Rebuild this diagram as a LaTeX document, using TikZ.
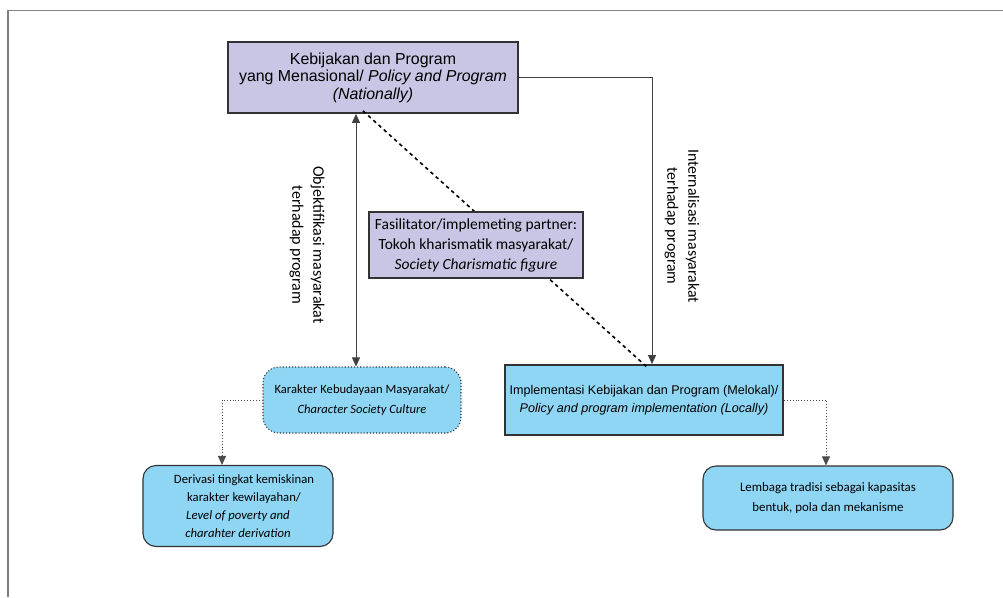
\documentclass[tikz,border=0pt]{standalone}
\usepackage{fontspec}
\setmainfont{Liberation Sans}
\newfontfamily\carl{Carlito}
\usetikzlibrary{arrows.meta}
\definecolor{lav}{HTML}{C8C6E4}
\definecolor{sky}{HTML}{8FD6F5}
\definecolor{edge}{HTML}{333333}
\tikzset{
  sqbox/.style={draw=edge, line width=1.8pt, align=center, inner sep=2pt},
  rbox/.style={draw=edge, line width=1.1pt, rounded corners=13pt, fill=sky, align=center, inner sep=2pt},
  conn/.style={draw=black!75, line width=0.8pt},
  tip/.style={-{Triangle[length=9pt,width=8pt]}},
  dotc/.style={draw=black!70, line width=0.9pt, dotted},
}
\begin{document}
\begin{tikzpicture}[x=1pt,y=-1pt]
\useasboundingbox (0,0) rectangle (1003,597);
\draw[gray, line width=1.3pt] (1003,10.5) -- (8,10.5) -- (8,597);

\node[sqbox, fill=lav, minimum width=290, minimum height=71,
      font=\fontsize{15.9}{17.5}\selectfont] (top) at (373,77.5)
  {Kebijakan dan Program\\yang Menasional/ \textit{Policy and Program}\\\textit{(Nationally)}};

\node[sqbox, fill=sky, minimum width=278, minimum height=70,
      font=\fontsize{12.6}{18.5}\selectfont] (impl) at (644,400)
  {Implementasi Kebijakan dan Program (Melokal)/\\\textit{Policy and program implementation (Locally)}};

\node[rbox, draw=edge, dotted, rounded corners=16pt, minimum width=198, minimum height=66,
      font=\carl\fontsize{12.6}{19.5}\selectfont] (kar) at (362,400)
  {Karakter Kebudayaan Masyarakat/\\\textit{Character Society Culture}};

\node[rbox, minimum width=190, minimum height=81,
      font=\carl\fontsize{12.7}{18}\selectfont] (der) at (238,506)
  {\hspace*{12pt}Derivasi tingkat kemiskinan\\\hspace*{12pt}karakter kewilayahan/\\\textit{Level of poverty and}\\\textit{charahter derivation}};

\node[rbox, minimum width=250, minimum height=64,
      font=\carl\fontsize{12.9}{19.5}\selectfont] (lem) at (828,498)
  {Lembaga tradisi sebagai kapasitas\\bentuk, pola dan mekanisme};

% connectors
\draw[conn, tip] (top.east) -| ([xshift=8]impl.north);
\draw[conn, {Triangle[length=9pt,width=8pt]}-{Triangle[length=9pt,width=8pt]}]
  ([xshift=-17]top.south) -- ([xshift=-6]kar.north);
\draw[black, line width=1.6pt, dash pattern=on 3.5pt off 3.5pt]
  ([xshift=-10,yshift=3]top.south) -- ([xshift=3,yshift=-3]impl.north);
\draw[dotc, tip] (kar.west) -| ([xshift=-16]der.north);
\draw[dotc, tip] (impl.east) -| ([xshift=-2]lem.north);

\node[sqbox, fill=lav, minimum width=214, minimum height=66,
      font=\carl\fontsize{15.5}{20}\selectfont] (fac) at (476,245)
  {Fasilitator/implemeting partner:\\Tokoh kharismatik masyarakat/\\\textit{Society Charismatic figure}};

\node[rotate=-90, align=center, font=\carl\fontsize{16}{21}\selectfont] (lab1) at (307,245)
  {Objektifikasi masyarakat\\terhadap program};
\node[rotate=-90, align=center, font=\carl\fontsize{15.8}{21}\selectfont] (lab2) at (682,226)
  {Internalisasi masyarakat\\terhadap program};
\end{tikzpicture}
\end{document}
